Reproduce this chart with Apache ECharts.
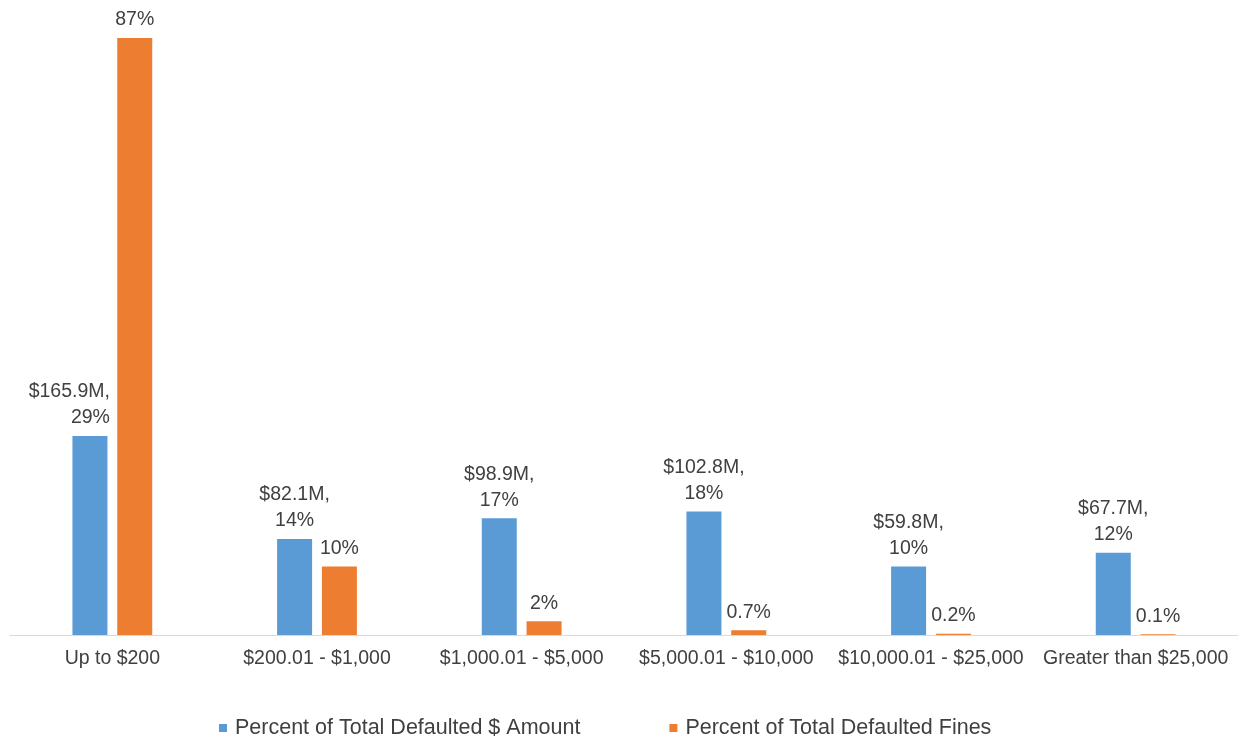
<!DOCTYPE html>
<html>
<head>
<meta charset="utf-8">
<title>Defaulted Fines by Amount Range</title>
<script src="https://cdn.jsdelivr.net/npm/echarts@6/dist/echarts.min.js"></script>
<style>
  html, body { margin: 0; padding: 0; background: #ffffff; }
  #chart { width: 1238px; height: 738px; }
</style>
</head>
<body>
<div id="chart"></div>
<script>
// Fine amount ranges
const categories = [
  'Up to $200',
  '$200.01 - $1,000',
  '$1,000.01 - $5,000',
  '$5,000.01 - $10,000',
  '$10,000.01 - $25,000',
  'Greater than $25,000'
];
// Share of total defaulted dollar amount (%)
const amountPct = [29, 14, 17, 18, 10, 12];
// Defaulted dollar amount per range ($ millions)
const amountMillions = [165.9, 82.1, 98.9, 102.8, 59.8, 67.7];
// Share of total number of defaulted fines (%)
const finesPct = [87, 10, 2, 0.7, 0.2, 0.1];

const seriesNames = ['Percent of Total Defaulted $ Amount', 'Percent of Total Defaulted Fines'];

const FONT = '"Liberation Sans", Arial, sans-serif';
const TEXT = '#404040';

const chart = echarts.init(document.getElementById('chart'), null, { renderer: 'canvas' });

const amountData = amountPct.map((v, i) => {
  const item = { value: v };
  if (i === 0) {
    // first label sits left of the tall neighbouring bar
    item.label = { align: 'right', offset: [20, 0] };
  }
  return item;
});

chart.setOption({
  animation: false,
  backgroundColor: '#ffffff',
  textStyle: { fontFamily: FONT },
  grid: { left: 10, right: 0, top: 38, bottom: 103, containLabel: false },
  legend: {
    left: 214,
    top: 712,
    itemWidth: 8,
    itemHeight: 8,
    itemGap: 89,
    icon: 'rect',
    data: seriesNames,
    textStyle: { fontFamily: FONT, fontSize: 21.5, color: TEXT, padding: [0, 0, 0, 3] }
  },
  xAxis: {
    type: 'category',
    data: categories,
    axisLine: { show: true, lineStyle: { color: '#D9D9D9', width: 1 } },
    axisTick: { show: false },
    axisLabel: { interval: 0, fontFamily: FONT, fontSize: 19.5, color: TEXT, margin: 14 }
  },
  yAxis: {
    type: 'value',
    min: 0,
    max: 87,
    show: false,
    splitLine: { show: false }
  },
  series: [
    {
      name: seriesNames[0],
      type: 'bar',
      data: amountData,
      barWidth: 35,
      barGap: '28%',
      itemStyle: { color: '#5B9BD5' },
      label: {
        show: true,
        position: 'top',
        distance: 5,
        fontFamily: FONT,
        fontSize: 19.5,
        lineHeight: 26,
        color: TEXT,
        formatter: p => '$' + amountMillions[p.dataIndex].toFixed(1) + 'M,\n' + p.value + '%'
      }
    },
    {
      name: seriesNames[1],
      type: 'bar',
      data: finesPct,
      barWidth: 35,
      itemStyle: { color: '#ED7D31' },
      label: {
        show: true,
        position: 'top',
        distance: 5,
        fontFamily: FONT,
        fontSize: 19.5,
        lineHeight: 26,
        color: TEXT,
        formatter: p => p.value + '%'
      }
    }
  ]
});
</script>
</body>
</html>
